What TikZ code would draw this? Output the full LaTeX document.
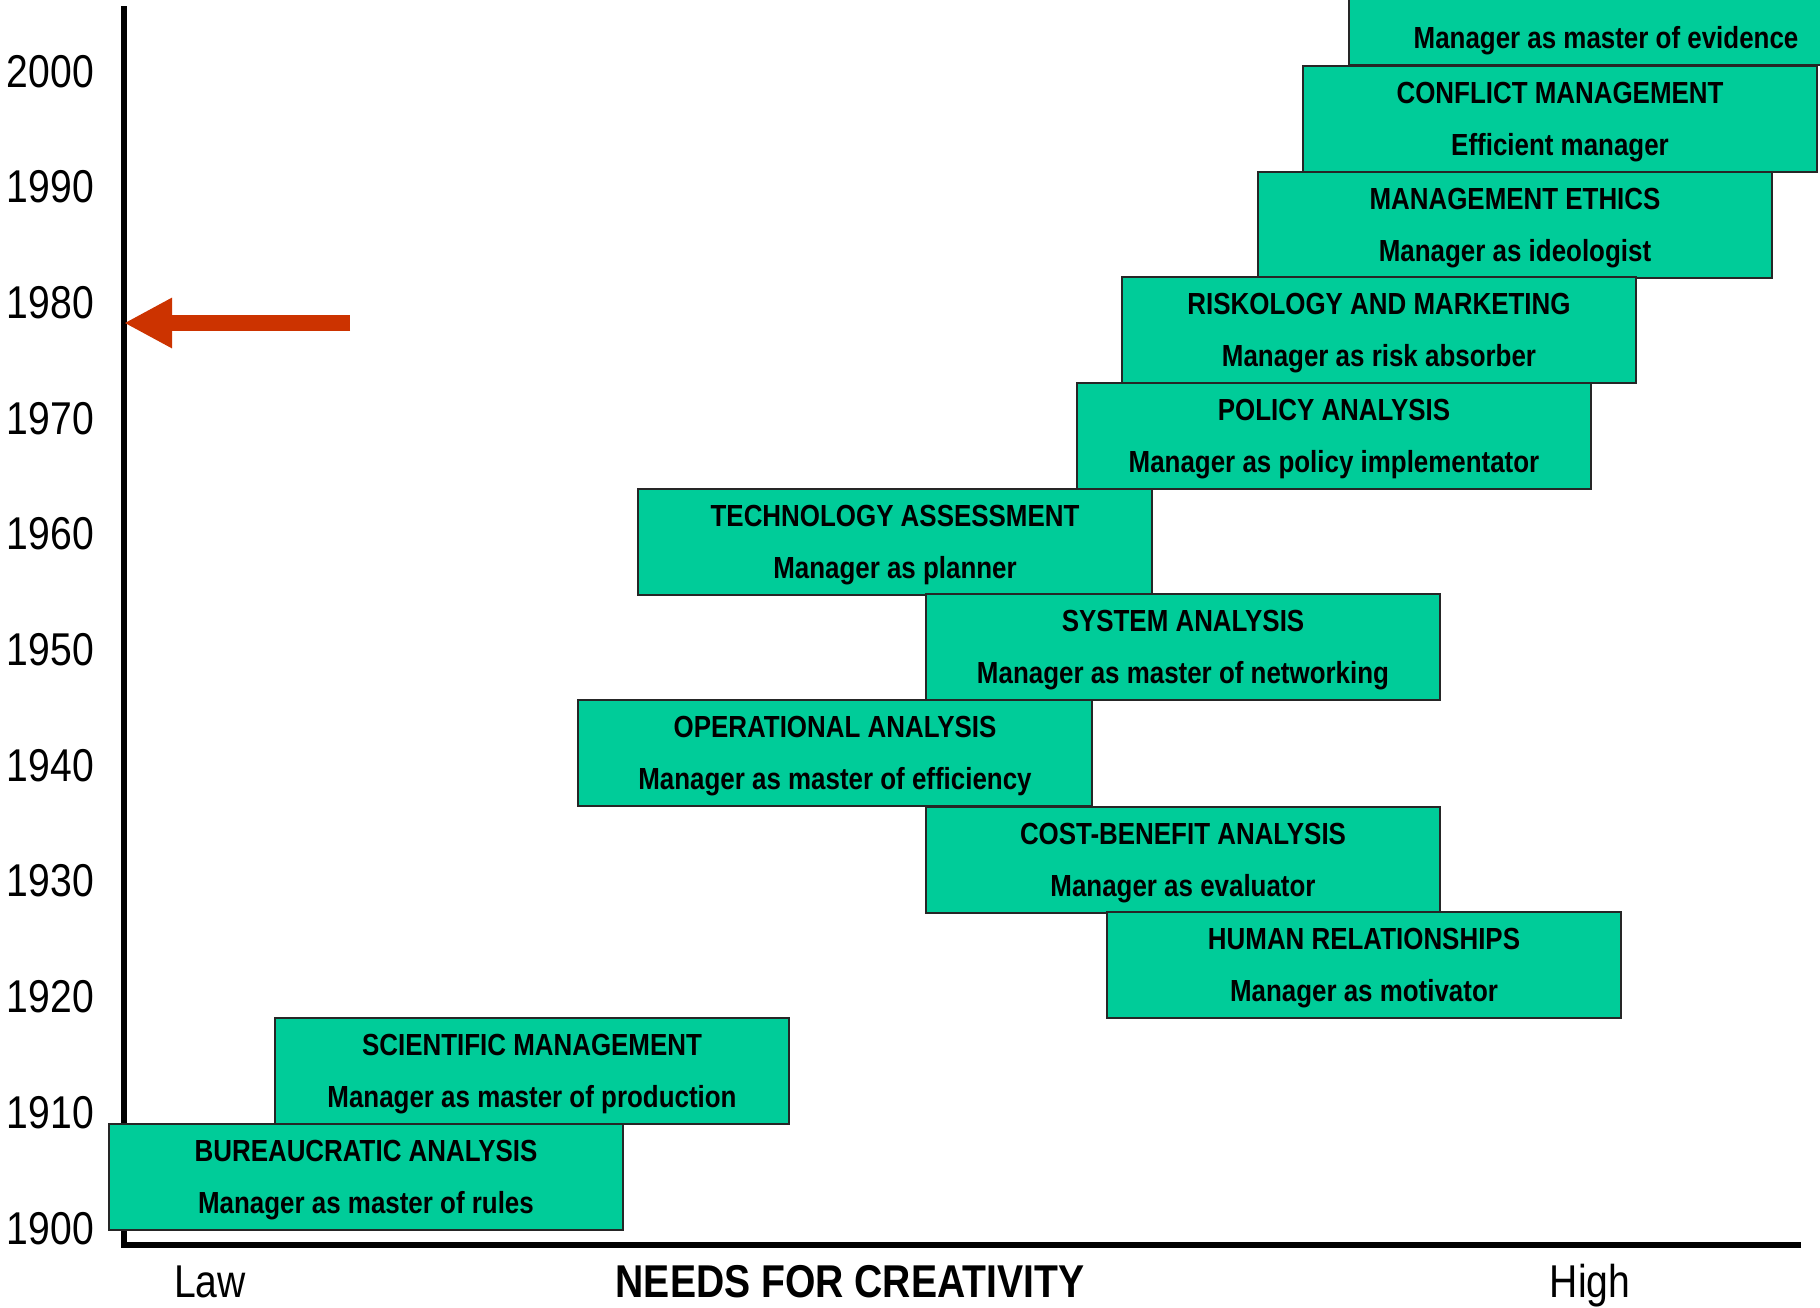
\documentclass[tikz,border=0pt]{standalone}
\usepackage{fontspec}
\setmainfont{Liberation Sans}
\newfontfamily\narrowreg[FakeStretch=0.85]{Liberation Sans}
\newfontfamily\narrowbold[FakeStretch=0.85]{Liberation Sans Bold}
\usetikzlibrary{arrows.meta}
\definecolor{boxgreen}{RGB}{0,204,153}
\definecolor{arrowred}{RGB}{204,51,0}
\tikzset{
  stagebox/.style={draw=black!85, line width=2pt, fill=boxgreen, minimum width=514pt, minimum height=105.8pt, inner sep=0pt, outer sep=0pt},
  stagetext/.style={font=\narrowbold\fontsize{30.5}{34}\selectfont, inner sep=0pt, anchor=base},
  yearlabel/.style={font=\narrowreg\fontsize{46}{50}\selectfont, inner sep=0pt, anchor=base east},
  axislabel/.style={font=\narrowreg\fontsize{46}{50}\selectfont, inner sep=0pt, anchor=base},
  axistitle/.style={font=\narrowbold\fontsize{46}{50}\selectfont, inner sep=0pt, anchor=base},
  axisline/.style={line width=6pt, black},
  redarrow/.style={arrowred, line width=16pt, -{Triangle[length=48pt, width=47pt]}}
}
\newcommand\mystage[5]{%
  \node[stagebox, anchor=north west] (#1) at (#2,#3) {};
  \node[stagetext] (#1-t) at ([yshift=-37pt]#1.north) {#4};
  \node[stagetext] (#1-s) at ([yshift=-89pt]#1.north) {#5};
}
\begin{document}
\begin{tikzpicture}[x=1pt, y=-1pt]
\useasboundingbox (0,0) rectangle (1820,1307);
\fill[white] (0,0) rectangle (1820,1307);
% axes
\coordinate (ytop) at (124,6);
\coordinate (origin) at (124,1245);
\coordinate (xend) at (1801,1245);
\draw[axisline] (ytop) -- (origin) -- (xend);
% year labels
\foreach \i in {0,...,10} {
  \pgfmathtruncatemacro{\yr}{1900+10*\i}
  \node[yearlabel] (y\yr) at (94,{1244-115.7*\i}) {\yr};
}
% red arrow
\coordinate (arrstart) at (350,323);
\coordinate (arrtip) at (124,323);
\draw[redarrow] (arrstart) -- (arrtip);
% stages
\mystage{evid}{1349}{-41}{}{Manager as master of evidence}
\mystage{conf}{1303}{66}{CONFLICT MANAGEMENT}{Efficient manager}
\mystage{ethi}{1258}{172}{MANAGEMENT ETHICS}{Manager as ideologist}
\mystage{risk}{1122}{277}{RISKOLOGY AND MARKETING}{Manager as risk absorber}
\mystage{poli}{1077}{383}{POLICY ANALYSIS}{Manager as policy implementator}
\mystage{tech}{638}{489}{TECHNOLOGY ASSESSMENT}{Manager as planner}
\mystage{syst}{926}{594}{SYSTEM ANALYSIS}{Manager as master of networking}
\mystage{oper}{578}{700}{OPERATIONAL ANALYSIS}{Manager as master of efficiency}
\mystage{cost}{926}{807}{COST-BENEFIT ANALYSIS}{Manager as evaluator}
\mystage{huma}{1107}{912}{HUMAN RELATIONSHIPS}{Manager as motivator}
\mystage{scie}{275}{1018}{SCIENTIFIC MANAGEMENT}{Manager as master of production}
\mystage{bure}{109}{1124}{BUREAUCRATIC ANALYSIS}{Manager as master of rules}
% axis labels
\node[axislabel] (law) at (210,1297) {Law};
\node[axistitle] (needs) at (850,1297) {NEEDS FOR CREATIVITY};
\node[axislabel] (high) at (1590,1297) {High};
\end{tikzpicture}
\end{document}
